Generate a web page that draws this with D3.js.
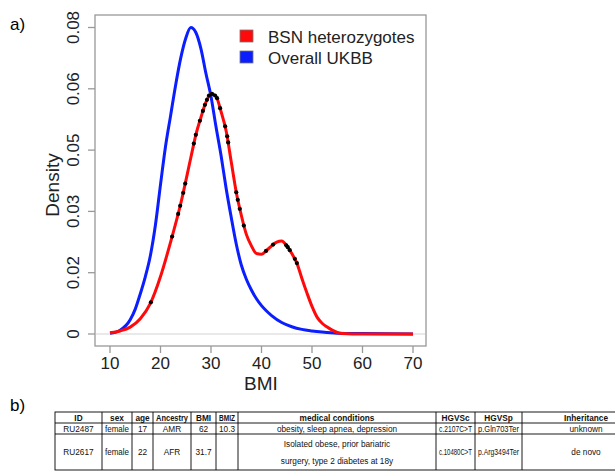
<!DOCTYPE html>
<html>
<head>
<meta charset="utf-8">
<script src="https://cdn.jsdelivr.net/npm/d3@7"></script>
<style>
  body { margin: 0; background: white; }
  text { font-family: "Liberation Sans", Arial, sans-serif; }
</style>
</head>
<body>
<script>
// BMI density curves
const bmiBlue = [10, 12, 14, 15, 16, 17, 18, 19, 20, 21, 22, 23, 24, 25, 26, 27, 28, 29, 30, 31, 32, 33, 34, 35, 36, 37, 38, 39, 40, 41, 42, 44, 46, 48, 50, 52, 55, 60, 70];
const densityBlue = [0.0002, 0.001, 0.0037, 0.0065, 0.0105, 0.015, 0.0205, 0.0285, 0.039, 0.049, 0.057, 0.065, 0.072, 0.0772, 0.0800, 0.0787, 0.0745, 0.068, 0.062, 0.054, 0.0465, 0.038, 0.0305, 0.0235, 0.018, 0.0143, 0.0115, 0.0092, 0.0074, 0.006, 0.0048, 0.003, 0.0019, 0.0012, 0.0008, 0.0005, 0.0002, 0.0001, 0];

const bmiRed = [10, 12, 14, 16, 18, 20, 22, 24, 26, 27, 28, 29, 30, 31, 32, 33, 34, 35, 36, 37, 38, 39, 40, 41, 42, 43, 44, 45, 46, 47, 48, 49, 50, 51, 52, 53, 54, 55, 56, 58, 70];
const densityRed = [0.0003, 0.0008, 0.0018, 0.004, 0.008, 0.015, 0.024, 0.034, 0.046, 0.052, 0.0565, 0.0605, 0.0627, 0.062, 0.058, 0.053, 0.045, 0.037, 0.031, 0.026, 0.023, 0.021, 0.0208, 0.0218, 0.023, 0.024, 0.0243, 0.023, 0.021, 0.0185, 0.0145, 0.0107, 0.0072, 0.0044, 0.0028, 0.0018, 0.001, 0.0004, 0.0001, 0, 0];

// BMI of the heterozygote carriers (black dots on the red curve)
const carrierBMI = [18.1, 22.3, 23.5, 23.9, 24.5, 24.9, 26.6, 27.0, 27.8, 28.4, 28.8, 29.2, 29.6, 30.2, 30.8, 31.2, 31.8, 32.8, 33.2, 33.4, 35.0, 35.3, 35.7, 36.5, 40.9, 42.3, 44.9, 45.2, 45.6, 46.6, 47.0];

const xTicks = [10, 20, 30, 40, 50, 60, 70];
const yTicks = [0, 0.016, 0.032, 0.048, 0.064, 0.08];
const yTickLabels = ["0", "0.02", "0.03", "0.05", "0.06", "0.08"];

const legendNames = ["BSN heterozygotes", "Overall UKBB"];
const legendColors = ["#ff0a0a", "#0a1eff"];

// table b)
const tableColumns = ["ID", "sex", "age", "Ancestry", "BMI", "BMIZ", "medical conditions", "HGVSc", "HGVSp", "Inheritance"];
const tableRow1 = ["RU2487", "female", "17", "AMR", "62", "10.3", "obesity, sleep apnea, depression", "c.2107C>T", "p.Gln703Ter", "unknown"];
const tableRow2 = ["RU2617", "female", "22", "AFR", "31.7", "", "Isolated obese, prior bariatric|surgery, type 2 diabetes at 18y", "c.10480C>T", "p.Arg3494Ter", "de novo"];
const columnEdges = [55, 102, 132, 153, 191, 216, 238, 436, 475, 522, 650];
const rowEdges = [412, 423, 434, 470];

const svg = d3.select("body")
  .append("svg")
  .attr("width", 615)
  .attr("height", 471);

// panel labels
svg.append("text").attr("x", 10).attr("y", 30).attr("font-size", 17).text("a)");
svg.append("text").attr("x", 10).attr("y", 411).attr("font-size", 17).text("b)");

const x = d3.scaleLinear().domain([10, 70]).range([110, 413]);
const y = d3.scaleLinear().domain([0, 0.08]).range([334, 27.5]);

// plot box
svg.append("rect")
  .attr("x", 95).attr("y", 15)
  .attr("width", 331).attr("height", 331)
  .attr("fill", "none")
  .attr("stroke", "#999")
  .attr("stroke-width", 1.3);

// zero line
svg.append("line")
  .attr("x1", 96).attr("x2", 425)
  .attr("y1", y(0)).attr("y2", y(0))
  .attr("stroke", "#e2e2e2")
  .attr("stroke-width", 1.3);

// x axis
const xAxis = svg.append("g").attr("transform", "translate(0,346)");
xAxis.selectAll("line")
  .data(xTicks)
  .enter()
  .append("line")
  .attr("x1", d => x(d)).attr("x2", d => x(d))
  .attr("y1", 0).attr("y2", 7)
  .attr("stroke", "#999")
  .attr("stroke-width", 1.3);
xAxis.selectAll("text")
  .data(xTicks)
  .enter()
  .append("text")
  .attr("x", d => x(d))
  .attr("y", 23)
  .attr("text-anchor", "middle")
  .attr("font-size", 17)
  .attr("fill", "#222")
  .text(d => d);
svg.append("text")
  .attr("x", 261).attr("y", 390)
  .attr("text-anchor", "middle")
  .attr("font-size", 19)
  .attr("fill", "#222")
  .text("BMI");

// y axis
const yAxis = svg.append("g").attr("transform", "translate(95,0)");
yAxis.selectAll("line")
  .data(yTicks)
  .enter()
  .append("line")
  .attr("x1", -7).attr("x2", 0)
  .attr("y1", d => y(d)).attr("y2", d => y(d))
  .attr("stroke", "#999")
  .attr("stroke-width", 1.3);
yAxis.selectAll("text")
  .data(yTicks)
  .enter()
  .append("text")
  .attr("transform", d => "translate(-16," + y(d) + ") rotate(-90)")
  .attr("text-anchor", "middle")
  .attr("font-size", 17)
  .attr("fill", "#222")
  .text((d, i) => yTickLabels[i]);
svg.append("text")
  .attr("transform", "translate(59,185) rotate(-90)")
  .attr("text-anchor", "middle")
  .attr("font-size", 19)
  .attr("fill", "#222")
  .text("Density");

// curves
const line = d3.line()
  .x(d => x(d[0]))
  .y(d => y(d[1]))
  .curve(d3.curveMonotoneX);

svg.append("path")
  .attr("d", line(bmiBlue.map((b, i) => [b, densityBlue[i]])))
  .attr("fill", "none")
  .attr("stroke", legendColors[1])
  .attr("stroke-width", 3);

const redPath = svg.append("path")
  .attr("d", line(bmiRed.map((b, i) => [b, densityRed[i]])))
  .attr("fill", "none")
  .attr("stroke", legendColors[0])
  .attr("stroke-width", 3);

// put the carrier dots on the drawn red curve
const pathNode = redPath.node();
const totalLength = pathNode.getTotalLength();
function yOnPath(px) {
  let lo = 0, hi = totalLength;
  for (let k = 0; k < 40; k++) {
    const mid = (lo + hi) / 2;
    if (pathNode.getPointAtLength(mid).x < px) lo = mid; else hi = mid;
  }
  return pathNode.getPointAtLength(lo).y;
}
svg.selectAll("circle.carrier")
  .data(carrierBMI)
  .enter()
  .append("circle")
  .attr("class", "carrier")
  .attr("cx", d => x(d))
  .attr("cy", d => yOnPath(x(d)))
  .attr("r", 2.1)
  .attr("fill", "black");

// legend
const legend = svg.selectAll("g.legend")
  .data(legendNames)
  .enter()
  .append("g")
  .attr("class", "legend")
  .attr("transform", (d, i) => "translate(240," + (30 + i * 21) + ")");
legend.append("rect")
  .attr("width", 13).attr("height", 12)
  .attr("fill", (d, i) => legendColors[i])
  .attr("stroke", "#777")
  .attr("stroke-width", 0.8);
legend.append("text")
  .attr("x", 28).attr("y", 12.5)
  .attr("font-size", 17)
  .attr("fill", "#222")
  .text(d => d);

// table (cut off at the right edge like the reference)
const table = svg.append("g");
table.append("rect")
  .attr("x", columnEdges[0]).attr("y", rowEdges[0])
  .attr("width", columnEdges[columnEdges.length - 1] - columnEdges[0])
  .attr("height", rowEdges[rowEdges.length - 1] - rowEdges[0])
  .attr("fill", "none")
  .attr("stroke", "black")
  .attr("stroke-width", 0.9);
table.selectAll("line.col")
  .data(columnEdges.slice(1, -1))
  .enter()
  .append("line")
  .attr("class", "col")
  .attr("x1", d => d).attr("x2", d => d)
  .attr("y1", rowEdges[0]).attr("y2", rowEdges[rowEdges.length - 1])
  .attr("stroke", "black")
  .attr("stroke-width", 0.9);
table.selectAll("line.row")
  .data(rowEdges.slice(1, -1))
  .enter()
  .append("line")
  .attr("class", "row")
  .attr("x1", columnEdges[0]).attr("x2", columnEdges[columnEdges.length - 1])
  .attr("y1", d => d).attr("y2", d => d)
  .attr("stroke", "black")
  .attr("stroke-width", 0.9);

const tableRows = [tableColumns, tableRow1, tableRow2];
tableRows.forEach((row, r) => {
  const midY = (rowEdges[r] + rowEdges[r + 1]) / 2;
  row.forEach((cell, c) => {
    const midX = (columnEdges[c] + columnEdges[c + 1]) / 2;
    const room = columnEdges[c + 1] - columnEdges[c] - 6;
    const lines = cell.split("|");
    lines.forEach((txt, k) => {
      if (!txt) return;
      const ty = midY + 3.2 + (k - (lines.length - 1) / 2) * 17;
      const t = table.append("text")
        .attr("x", 0)
        .attr("y", 0)
        .attr("text-anchor", "middle")
        .attr("font-size", 9)
        .attr("font-weight", r === 0 ? "bold" : "normal")
        .attr("fill", "#111")
        .text(txt);
      // narrower glyphs, closer to the Calibri of the original table
      const natural = t.node().getComputedTextLength();
      const sx = Math.min(0.92, room / natural);
      t.attr("transform", "translate(" + midX + "," + ty + ") scale(" + sx + ",1)");
    });
  });
});
</script>
</body>
</html>
